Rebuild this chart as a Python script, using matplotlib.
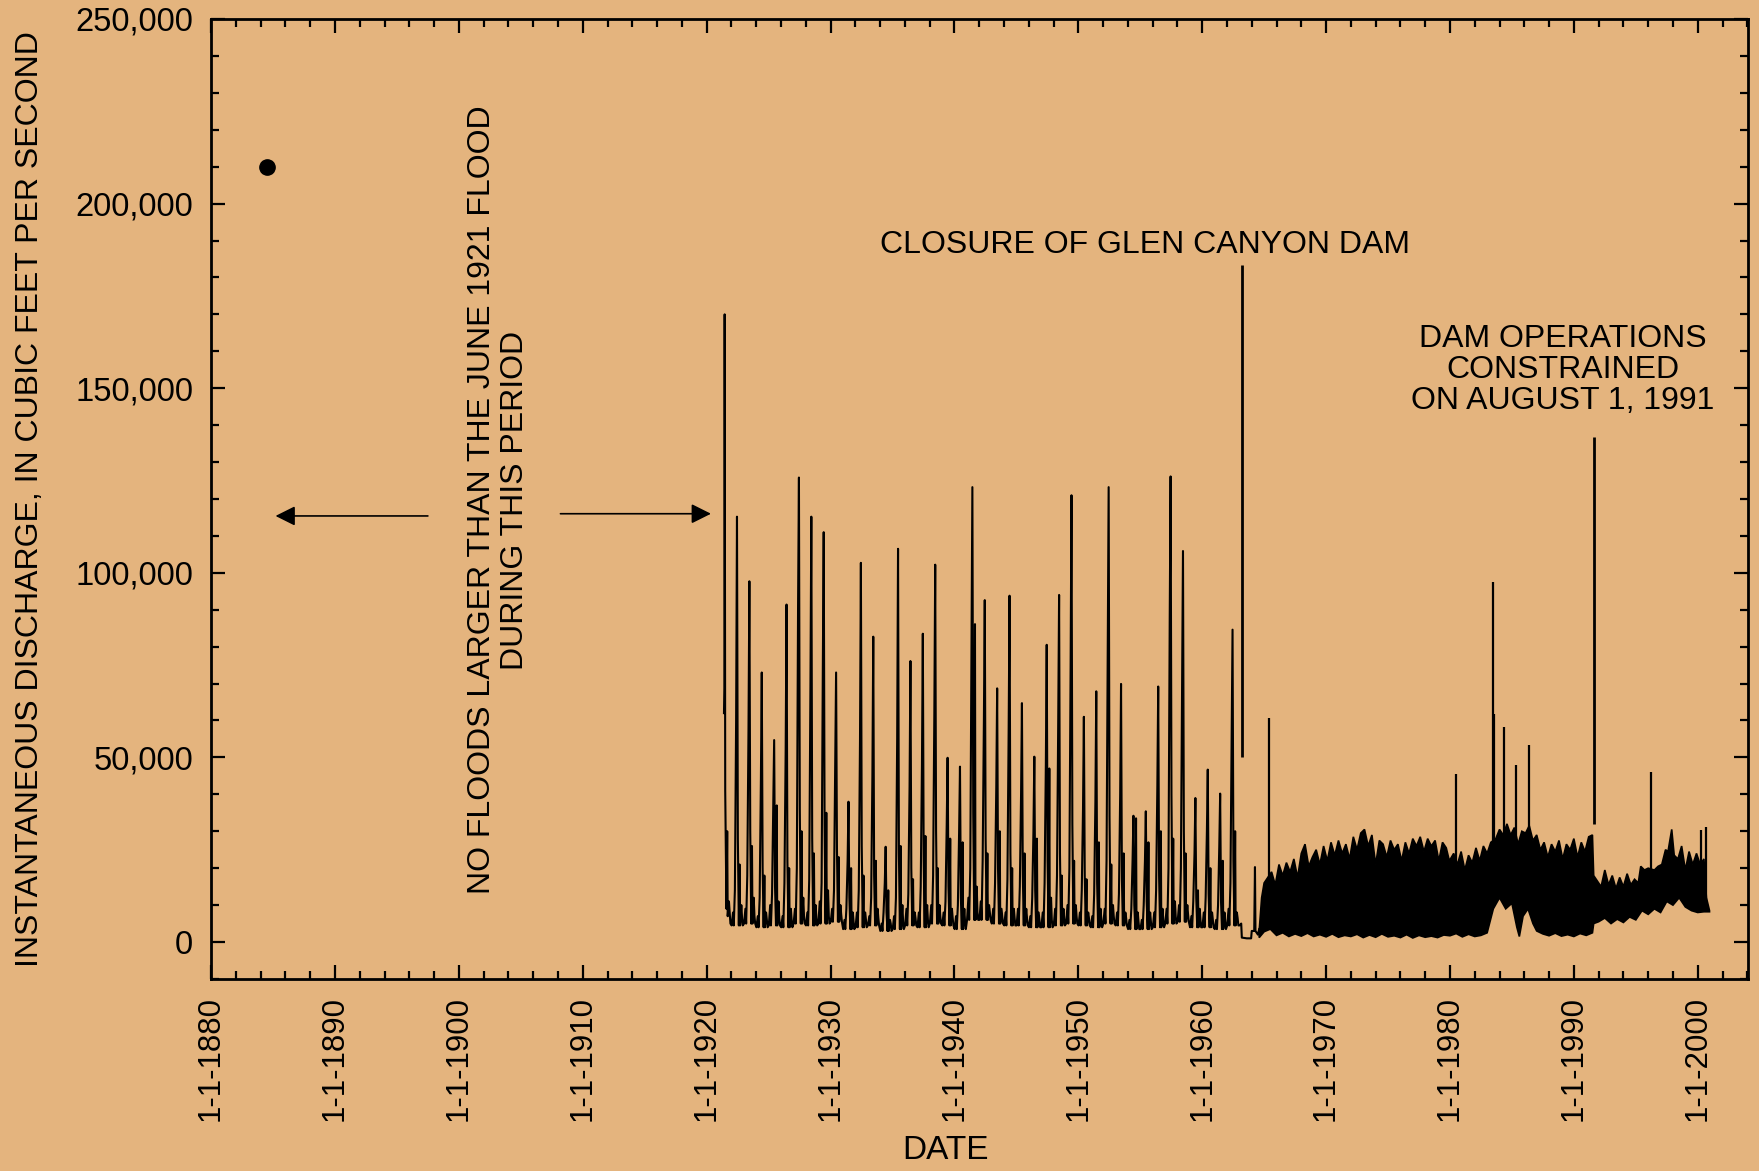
import numpy as np
import matplotlib.pyplot as plt
from matplotlib.ticker import MultipleLocator, FuncFormatter

plt.rcParams['font.family'] = ['Liberation Sans', 'DejaVu Sans']

BG = '#E4B47E'

# 1884 flood (indirect estimate), cfs
flood_1884_t = 1884.5
flood_1884_q = 210000

# partial 1921 record (starts late spring), thousands of cfs
t_1921 = [1921.40, 1921.43, 1921.455, 1921.50, 1921.60, 1921.66, 1921.70, 1921.80, 1921.92]
q_1921 = [62, 68.7, 170, 41, 9, 30, 7, 11, 5]

# pre-dam years, readings per year in thousands of cfs
years = list(range(1922, 1963))
winter_low = [4.5, 5, 4, 4.5, 4, 5, 4.5, 5, 5.5, 3.5, 4, 4.5, 3, 3.5, 4.5, 4, 5, 4.5, 3.5,
              6, 6, 5, 4.5, 4.5, 4, 4, 4.5, 5, 4.5, 4, 5, 4.5, 3.5, 3.5, 4, 5, 5.5, 4, 4, 3.5, 4.5]
feb_q = [8, 9, 7, 10, 7, 9, 8, 11, 9, 6, 8, 7, 5, 7, 9, 8, 10, 8, 7, 12,
         11, 9, 8, 9, 7, 8, 9, 10, 8, 7, 9, 8, 6, 6, 8, 9, 10, 7, 8, 6, 9]
april_q = [14, 18, 12, 13, 16, 20, 17, 16, 14, 9, 14, 12, 8, 12, 13, 15, 18, 11, 10,
           20, 22, 16, 17, 15, 12, 16, 18, 20, 14, 13, 22, 13, 9, 10, 14, 20, 20, 11, 12, 10, 16]
may_q = [60, 58, 44, 38, 52, 91, 70, 75, 48, 22, 55, 45, 16, 55, 42, 48, 62, 32, 30,
         78, 60, 42, 58, 40, 30, 48, 60, 75, 36, 38, 80, 40, 22, 22, 42, 88, 70, 24, 30, 26, 55]
peak_q = [115.2, 97.7, 73, 54.7, 91.4, 125.8, 115.2, 111, 73, 38, 102.7, 82.7, 25.8, 106.5,
          76.1, 83.5, 102.2, 49.9, 47.5, 123.2, 92.6, 68.7, 93.8, 64.7, 50.2, 80.5, 94, 121,
          61, 67.9, 123.2, 69.9, 34.2, 35.4, 69.2, 126.1, 105.9, 39, 46.7, 40.2, 84.6]
july_q = [28, 30, 20, 15, 22, 36, 28, 32, 25, 12, 26, 18, 8, 24, 20, 22, 30, 15, 12,
          35, 28, 20, 24, 18, 14, 22, 24, 32, 18, 16, 34, 17, 10, 11, 18, 40, 30, 12, 13, 11, 22]
storm_q = [21, 26, 18, 37, 20, 30, 24, 35, 23, 20, 18, 22, 14, 26, 17, 28.7, 20, 28, 27,
           86.1, 24, 30, 20, 24, 28, 47, 18, 22, 17, 27, 21, 24, 33.5, 27, 30, 28, 24, 14, 20, 22, 30]
fall_q = [10, 12, 8, 11, 9, 12, 10, 14, 10, 8, 8, 9, 6, 10, 8, 10, 10, 9, 9,
          15, 10, 9, 9, 9, 8, 12, 9, 10, 8, 9, 10, 8, 8, 8, 9, 11, 10, 9, 8, 8, 8]
season_t = [0.02, 0.13, 0.19, 0.28, 0.38, 0.45, 0.52, 0.60, 0.66, 0.70, 0.80, 0.86, 0.92]

# 1963 closure and low releases up to the start of power fluctuations
t_closure = [1963.02, 1963.15, 1963.2, 1963.6, 1963.95, 1964.0, 1964.2, 1964.26, 1964.3, 1964.5, 1964.6]
q_closure = [4.5, 5, 1.2, 1.0, 1.0, 3.0, 3.0, 20.3, 3.0, 2.0, 3.5]

# daily fluctuation band after 1964, upper envelope (thousands of cfs)
band_hi_t = [1964.6, 1964.8, 1965.0, 1965.6, 1965.9, 1966.2, 1966.5, 1966.8, 1967.1, 1967.4,
             1967.7, 1968.0, 1968.3, 1968.6, 1968.9, 1969.2, 1969.5, 1969.8, 1970.1, 1970.4,
             1970.7, 1971.0, 1971.3, 1971.6, 1971.9, 1972.2, 1972.5, 1972.8, 1973.1, 1973.4,
             1973.7, 1974.0, 1974.3, 1974.6, 1974.9, 1975.2, 1975.5, 1975.8, 1976.1, 1976.4,
             1976.7, 1977.0, 1977.3, 1977.6, 1977.9, 1978.2, 1978.5, 1978.8, 1979.1, 1979.4,
             1979.7, 1979.95, 1980.3, 1980.6, 1980.9, 1981.2, 1981.5, 1981.8, 1982.1, 1982.4,
             1982.7, 1983.0, 1983.3, 1983.7, 1984.0, 1984.3, 1984.6, 1984.9, 1985.2, 1985.5,
             1985.8, 1986.1, 1986.4, 1986.7, 1987.0, 1987.3, 1987.6, 1987.9, 1988.2, 1988.5,
             1988.8, 1989.1, 1989.4, 1989.7, 1990.0, 1990.3, 1990.6, 1990.9, 1991.2, 1991.5,
             1991.6, 1991.9, 1992.2, 1992.5, 1992.8, 1993.1, 1993.4, 1993.7, 1994.0, 1994.3,
             1994.6, 1994.9, 1995.2, 1995.4, 1995.7, 1996.0, 1996.5, 1996.8, 1997.1, 1997.4,
             1997.6, 1997.9, 1998.1, 1998.4, 1998.7, 1999.0, 1999.3, 1999.6, 1999.9, 2000.2,
             2000.5, 2000.7, 2000.95]
band_hi_q = [3, 12, 16, 19, 15.5, 21, 18, 21.5, 19, 22.5,
             17.5, 24, 26.5, 20.5, 23, 25, 21, 26, 22, 27,
             23.5, 27.5, 24, 26.5, 22.5, 28.5, 25, 29.5, 30.5, 26,
             29, 21, 27.5, 26.5, 23, 27.5, 25, 26.5, 22, 27,
             24, 28, 26, 28.5, 24.5, 28, 26, 27.5, 22, 27,
             25.5, 22, 24, 21, 24.5, 19.5, 23.5, 21.5, 25.5, 22,
             26, 24, 27, 28, 30.5, 29, 32, 29, 31, 26.5,
             30, 29.5, 31.5, 27.5, 29, 25, 27, 23, 26.5, 24.5,
             27.5, 22.5, 26.5, 25, 28, 23, 27, 24.5, 28.5, 29,
             18, 16.5, 15, 19.5, 15.5, 18, 14.5, 17.5, 15, 18.5,
             15.5, 17, 16, 20.5, 19.5, 20, 19.5, 20.5, 21, 25,
             24.5, 30.5, 23.5, 22.5, 26, 19.5, 24.5, 21, 24, 21,
             22.5, 12, 8.5]
# lower envelope
band_lo_t = [1964.6, 1965.0, 1965.5, 1966.0, 1966.5, 1967.0, 1967.5, 1968.0, 1968.5, 1969.0,
             1969.5, 1970.0, 1970.5, 1971.0, 1971.5, 1972.0, 1972.5, 1973.0, 1973.5, 1974.0,
             1974.5, 1975.0, 1975.5, 1976.0, 1976.5, 1977.0, 1977.5, 1978.0, 1978.5, 1979.0,
             1979.5, 1980.0, 1980.5, 1981.0, 1981.5, 1982.0, 1982.5, 1983.0, 1983.5, 1984.0,
             1984.5, 1985.0, 1985.4, 1985.6, 1985.9, 1986.3, 1986.7, 1987.0, 1987.5, 1988.0,
             1988.5, 1989.0, 1989.5, 1990.0, 1990.5, 1991.0, 1991.5, 1991.6, 1992.0, 1992.5,
             1993.0, 1993.5, 1994.0, 1994.5, 1995.0, 1995.5, 1996.0, 1996.5, 1997.0, 1997.5,
             1998.0, 1998.5, 1999.0, 1999.5, 2000.0, 2000.5, 2000.95]
band_lo_q = [1.2, 2.8, 3.5, 1.8, 2.5, 1.5, 2.2, 1.6, 2.4, 1.5,
             2.0, 1.4, 2.2, 1.3, 1.8, 1.5, 2.1, 1.2, 1.9, 1.3,
             2.2, 1.4, 1.7, 1.2, 2.0, 1.1, 1.8, 1.3, 1.6, 1.2,
             1.9, 1.7, 2.3, 1.4, 2.1, 1.5, 1.8, 2.5, 9, 12,
             9, 10.5, 4, 1.5, 7, 9, 5, 3, 2.2, 1.7,
             2.4, 1.6, 2.0, 1.5, 2.3, 1.8, 2.5, 5, 5.5, 6.5,
             5, 6.2, 5.3, 6.8, 6, 8.5, 7.5, 9, 8, 11,
             10, 12, 9.5, 8.5, 8, 8.2, 8.2]

# isolated high releases after closure: date, peak, flow at the foot
spike_t = [1965.36, 1980.46, 1983.46, 1983.52, 1984.40, 1985.36, 1986.39, 1996.24, 2000.30, 2000.68]
spike_q = [60.6, 45.4, 97.6, 61.8, 58.3, 47.9, 53.3, 46.0, 30.3, 31.1]
spike_base = [15, 20, 25, 25, 25, 25, 25, 18, 9, 8.5]

# annotation leader lines
closure_t, closure_top, closure_bottom = 1963.22, 183500, 50100
constrain_t, constrain_top, constrain_bottom = 1991.62, 136700, 31900

# assemble the pre-dam hydrograph
t_pre = list(t_1921)
q_pre = list(q_1921)
for i, yr in enumerate(years):
    lo = winter_low[i]
    vals = [lo, feb_q[i], lo, april_q[i], may_q[i], peak_q[i], july_q[i],
            lo, storm_q[i], lo, fall_q[i], lo + 2, lo]
    t_pre += [yr + s for s in season_t]
    q_pre += vals
t_pre += t_closure
q_pre += q_closure
t_pre = np.array(t_pre)
q_pre = np.array(q_pre) * 1000

fig = plt.figure(figsize=(17.59, 11.71), dpi=100, facecolor=BG)
ax = fig.add_axes([0.12, 0.164, 0.8737, 0.8198])
ax.set_facecolor(BG)

ax.plot(t_pre, q_pre, color='black', lw=1.5)
band_x = np.concatenate([band_hi_t, band_lo_t[::-1]])
band_y = np.concatenate([band_hi_q, band_lo_q[::-1]]) * 1000
ax.fill(band_x, band_y, color='black', lw=1.2)
ax.vlines(spike_t, np.array(spike_base) * 1000, np.array(spike_q) * 1000, color='black', lw=1.6)

ax.plot([flood_1884_t], [flood_1884_q], 'o', color='black', ms=11)

ax.vlines([closure_t], closure_bottom, closure_top, color='black', lw=2)
ax.vlines([constrain_t], constrain_bottom, constrain_top, color='black', lw=2)

fs = 23
ax.text(1955.4, 188900, 'CLOSURE OF GLEN CANYON DAM', ha='center', va='center', fontsize=fs)
ax.text(1989.1, 155000, 'DAM OPERATIONS\nCONSTRAINED\nON AUGUST 1, 1991', ha='center',
        va='center', fontsize=fs, linespacing=1.05)
ax.text(1903.2, 119700, 'NO FLOODS LARGER THAN THE JUNE 1921 FLOOD\nDURING THIS PERIOD',
        ha='center', va='center', rotation=90, fontsize=fs, linespacing=1.1)

arrow = dict(arrowstyle='-|>', mutation_scale=30, lw=1.2, color='black', shrinkA=0, shrinkB=0)
ax.annotate('', xy=(1885.2, 115400), xytext=(1897.5, 115400), arrowprops=arrow)
ax.annotate('', xy=(1920.35, 116000), xytext=(1908.2, 116000), arrowprops=arrow)

ax.set_xlim(1880, 2004.05)
ax.set_ylim(-10000, 250000)
ax.xaxis.set_major_locator(MultipleLocator(10))
ax.xaxis.set_minor_locator(MultipleLocator(2))
ax.yaxis.set_major_locator(MultipleLocator(50000))
ax.yaxis.set_minor_locator(MultipleLocator(10000))
ax.xaxis.set_major_formatter(FuncFormatter(lambda v, p: f'1-1-{int(round(v))}'))
ax.yaxis.set_major_formatter(FuncFormatter(lambda v, p: f'{v:,.0f}'))

ax.tick_params(which='both', direction='in', top=True, right=True, width=1.6, colors='black')
ax.tick_params(which='major', length=10, labelsize=22.5, pad=12)
ax.tick_params(axis='y', which='major', labelsize=23.5, pad=13)
ax.tick_params(which='minor', length=6)
for lbl in ax.get_xticklabels():
    lbl.set_rotation(90)
for sp in ax.spines.values():
    sp.set_linewidth(2)

ax.set_ylabel('INSTANTANEOUS DISCHARGE, IN CUBIC FEET PER SECOND', fontsize=23)
ax.yaxis.set_label_coords(-0.108, 0.5)
ax.set_xlabel('DATE', fontsize=24)
ax.xaxis.set_label_coords(0.478, -0.163)

fig.savefig('out.png', dpi=100, facecolor=BG)
